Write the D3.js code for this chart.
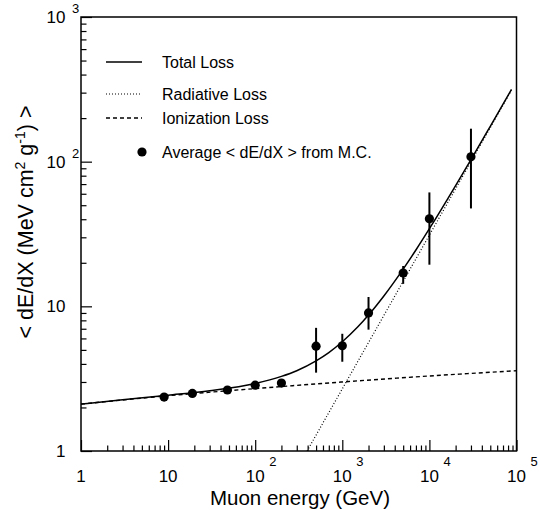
<!DOCTYPE html>
<html><head><meta charset="utf-8">
<script src="https://cdn.jsdelivr.net/npm/d3@7"></script>
<style>
body{margin:0;background:#fff;}
text{font-family:"Liberation Sans",Arial,Helvetica,sans-serif;fill:#000;}
</style></head>
<body><svg id="c" width="539" height="510"></svg>
<script>
// ---- data ----
const mcEnergy = [9, 19, 48, 100, 200, 500, 1000, 2000, 5000, 10000, 30000];
const mcValue  = [2.36, 2.50, 2.64, 2.85, 2.95, 5.30, 5.34, 9.0, 17.0, 40.3, 108];
const mcLow    = [2.36, 2.50, 2.64, 2.85, 2.95, 3.48, 4.14, 6.9, 14.3, 19.4, 47.5];
const mcHigh   = [2.36, 2.50, 2.64, 2.85, 2.95, 7.10, 6.46, 11.6, 19.0, 61.3, 169];

const totalEnergy = [1, 3, 10, 30, 100, 200, 300, 500, 700, 1000, 1500, 2000, 3000, 5000, 7000, 10000, 20000, 30000, 50000, 87600];
const totalValue  = [2.11, 2.26, 2.43, 2.61, 2.93, 3.28, 3.59, 4.20, 4.79, 5.69, 7.19, 8.71, 11.8, 18.1, 24.5, 34.4, 68.4, 103.4, 175.7, 316];

const radEnergy = [394, 1000, 10000, 87600];
const radValue  = [1.0, 2.69, 31.1, 312];

const ionEnergy = [1, 10, 100, 1000, 10000, 100000];
const ionValue  = [2.11, 2.41, 2.70, 3.00, 3.30, 3.59];

const xMajor = [1, 10, 100, 1000, 10000, 100000];
const xLabelBase = ["1", "10", "10", "10", "10", "10"];
const xLabelExp  = ["", "", "2", "3", "4", "5"];
const yMajor = [1, 10, 100, 1000];
const yLabelBase = ["1", "10", "10", "10"];
const yLabelExp  = ["", "", "2", "3"];

const legendLabels = ["Total Loss", "Radiative Loss", "Ionization Loss", "Average < dE/dX > from M.C."];

// ---- chart ----
const svg = d3.select("#c");
const L = 81, R = 516.5, T = 17, B = 451;
const x = d3.scaleLog().domain([1, 1e5]).range([L, R]);
const y = d3.scaleLog().domain([1, 1000]).range([B, T]);

function minors(lo, hi) {
  const out = [];
  for (let d = lo; d < hi; d *= 10) for (let k = 2; k <= 9; k++) out.push(d * k);
  return out;
}

// axes (ticks inside)
const gx = svg.append("g").attr("transform", `translate(0,${B})`);
gx.call(d3.axisBottom(x).tickValues(xMajor).tickSizeInner(-11).tickSizeOuter(0).tickFormat(""));
const gx2 = svg.append("g").attr("transform", `translate(0,${B})`);
gx2.call(d3.axisBottom(x).tickValues(minors(1, 1e5)).tickSizeInner(-5.5).tickSizeOuter(0).tickFormat(""));
const gy = svg.append("g").attr("transform", `translate(${L},0)`);
gy.call(d3.axisLeft(y).tickValues(yMajor).tickSizeInner(-11).tickSizeOuter(0).tickFormat(""));
const gy2 = svg.append("g").attr("transform", `translate(${L},0)`);
gy2.call(d3.axisLeft(y).tickValues(minors(1, 1000)).tickSizeInner(-5.5).tickSizeOuter(0).tickFormat(""));
svg.selectAll(".domain").remove();
svg.selectAll(".tick line").attr("stroke", "#000").attr("stroke-width", 1.2);

// frame
svg.append("rect").attr("x", L).attr("y", T).attr("width", R - L).attr("height", B - T)
  .attr("fill", "none").attr("stroke", "#000").attr("stroke-width", 1.5);

// x tick labels
xMajor.forEach((v, i) => {
  svg.append("text").attr("x", x(v)).attr("y", 482).attr("font-size", 17).attr("text-anchor", "middle").text(xLabelBase[i]);
  if (xLabelExp[i]) {
    svg.append("text").attr("x", x(v) + 14).attr("y", 466).attr("font-size", 13).text(xLabelExp[i]);
  }
});
// y tick labels
yMajor.forEach((v, i) => {
  svg.append("text").attr("x", 65.5).attr("y", y(v) + 6).attr("font-size", 17).attr("text-anchor", "end").text(yLabelBase[i]);
  if (yLabelExp[i]) {
    svg.append("text").attr("x", 72).attr("y", y(v) - 4).attr("font-size", 13).text(yLabelExp[i]);
  }
});

// axis titles
svg.append("text").attr("x", 300).attr("y", 505).attr("font-size", 20.5).attr("text-anchor", "middle").text("Muon energy (GeV)");
const yt = svg.append("text").attr("transform", "translate(33,222) rotate(-90)").attr("font-size", 21.5).attr("text-anchor", "middle");
yt.append("tspan").text("< dE/dX (MeV cm");
yt.append("tspan").attr("font-size", 14).attr("dy", -8).text("2");
yt.append("tspan").attr("dy", 8).text(" g");
yt.append("tspan").attr("font-size", 14).attr("dy", -8).text("-1");
yt.append("tspan").attr("dy", 8).text(") >");

// curves
svg.append("clipPath").attr("id", "pc").append("rect").attr("x", L).attr("y", T).attr("width", R - L).attr("height", B - T);
const line = d3.line().x(d => x(d[0])).y(d => y(d[1])).curve(d3.curveMonotoneX);
const plot = svg.append("g").attr("clip-path", "url(#pc)");
plot.append("path").datum(ionEnergy.map((e, i) => [e, ionValue[i]])).attr("d", line)
  .attr("fill", "none").attr("stroke", "#000").attr("stroke-width", 1.4).attr("stroke-dasharray", "4,3");
plot.append("path").datum(radEnergy.map((e, i) => [e, radValue[i]])).attr("d", d3.line().x(d => x(d[0])).y(d => y(d[1])))
  .attr("fill", "none").attr("stroke", "#000").attr("stroke-width", 1.2).attr("stroke-dasharray", "1,2");
plot.append("path").datum(totalEnergy.map((e, i) => [e, totalValue[i]])).attr("d", line)
  .attr("fill", "none").attr("stroke", "#000").attr("stroke-width", 1.5);

// MC points with error bars
mcEnergy.forEach((e, i) => {
  if (mcHigh[i] > mcLow[i]) {
    svg.append("line").attr("x1", x(e)).attr("x2", x(e)).attr("y1", y(mcLow[i])).attr("y2", y(mcHigh[i]))
      .attr("stroke", "#000").attr("stroke-width", 2);
  }
  svg.append("circle").attr("cx", x(e)).attr("cy", y(mcValue[i])).attr("r", 4.6).attr("fill", "#000");
});

// legend
const ly = [62, 94, 118, 152];
const lg = svg.append("g");
lg.append("line").attr("x1", 106).attr("x2", 142).attr("y1", ly[0]).attr("y2", ly[0]).attr("stroke", "#000").attr("stroke-width", 1.5);
lg.append("line").attr("x1", 106).attr("x2", 142).attr("y1", ly[1]).attr("y2", ly[1]).attr("stroke", "#000").attr("stroke-width", 1.2).attr("stroke-dasharray", "1,2");
lg.append("line").attr("x1", 106).attr("x2", 142).attr("y1", ly[2]).attr("y2", ly[2]).attr("stroke", "#000").attr("stroke-width", 1.4).attr("stroke-dasharray", "4,3");
lg.append("circle").attr("cx", 142).attr("cy", ly[3]).attr("r", 4.6).attr("fill", "#000");
legendLabels.forEach((t, i) => {
  lg.append("text").attr("x", 162).attr("y", ly[i] + 6).attr("font-size", 16).text(t);
});
</script></body></html>
